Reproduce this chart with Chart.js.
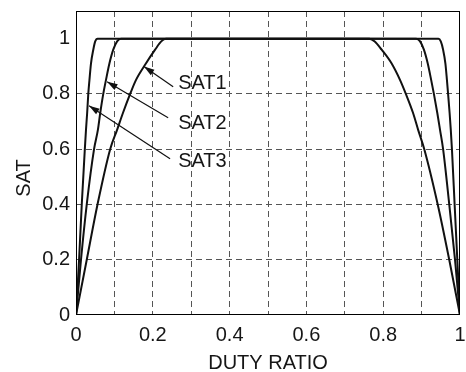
<!DOCTYPE html>
<html>
<head>
<meta charset="utf-8">
<script src="https://cdn.jsdelivr.net/npm/chart.js@4/dist/chart.umd.min.js"></script>
<style>
  html, body { margin: 0; padding: 0; background: #fff; }
  #wrap { width: 466px; height: 372px; }
</style>
</head>
<body>
<div id="wrap"><canvas id="satChart"></canvas></div>
<script>
// duty ratio / SAT values
const sat1X = [0, 0.028, 0.056, 0.089, 0.107, 0.122, 0.141, 0.156, 0.182, 0.206, 0.222, 0.234, 0.764, 0.778, 0.796, 0.822, 0.844, 0.859, 0.878, 0.891, 0.907, 0.942, 0.972, 1];
const sat1Y = [0, 0.2, 0.4, 0.6, 0.67, 0.73, 0.8, 0.85, 0.91, 0.96, 0.99, 1, 1, 0.99, 0.96, 0.91, 0.85, 0.8, 0.73, 0.67, 0.6, 0.4, 0.2, 0];

const sat2X = [0, 0.013, 0.028, 0.047, 0.057, 0.063, 0.071, 0.078, 0.087, 0.097, 0.107, 0.117, 0.886, 0.896, 0.906, 0.916, 0.925, 0.932, 0.941, 0.948, 0.956, 0.972, 0.987, 1];
const sat2Y = [0, 0.2, 0.4, 0.6, 0.67, 0.73, 0.8, 0.85, 0.91, 0.96, 0.99, 1, 1, 0.99, 0.96, 0.91, 0.85, 0.8, 0.73, 0.67, 0.6, 0.4, 0.2, 0];

const sat3X = [0, 0.008, 0.015, 0.023, 0.026, 0.029, 0.032, 0.035, 0.039, 0.045, 0.05, 0.056, 0.944, 0.95, 0.956, 0.962, 0.966, 0.969, 0.973, 0.976, 0.979, 0.986, 0.993, 1];
const sat3Y = [0, 0.2, 0.4, 0.6, 0.67, 0.73, 0.8, 0.85, 0.91, 0.96, 0.99, 1, 1, 0.99, 0.96, 0.91, 0.85, 0.8, 0.73, 0.67, 0.6, 0.4, 0.2, 0];

const xTicks = [0, 0.1, 0.2, 0.3, 0.4, 0.5, 0.6, 0.7, 0.8, 0.9, 1];
const yTicks = [0, 0.2, 0.4, 0.6, 0.8, 1];

// arrow labels: name, arrow tip, arrow tail, text baseline start (data units)
const labelNames = ["SAT1", "SAT2", "SAT3"];
const labelTips = [[0.177, 0.899], [0.081, 0.844], [0.034, 0.757]];
const labelTails = [[0.253, 0.826], [0.240, 0.714], [0.245, 0.565]];
const labelText = [[0.266, 0.819], [0.266, 0.674], [0.266, 0.536]];

const FONT = "'Liberation Sans', Arial, sans-serif";
const INK = "#161616";

function toPoints(xs, ys) {
  return xs.map((x, i) => ({ x: x, y: ys[i] }));
}

function lineSet(label, xs, ys) {
  return {
    label: label,
    data: toPoints(xs, ys),
    borderColor: "#111",
    borderWidth: 2,
    pointRadius: 0,
    fill: false,
    cubicInterpolationMode: "monotone"
  };
}

// frame, y title, arrows with labels
const annotate = {
  id: "annotate",
  afterDatasetsDraw(chart) {
    const { ctx, chartArea: a, scales } = chart;
    const sx = scales.x, sy = scales.y;
    ctx.save();
    ctx.strokeStyle = "#000";
    ctx.lineWidth = 1;
    ctx.strokeRect(a.left + 0.5, a.top + 0.5, a.right - a.left - 1, a.bottom - a.top - 1);

    ctx.fillStyle = INK;
    ctx.font = "20px " + FONT;

    // y axis title sits a bit below the middle in the original
    ctx.save();
    ctx.translate(24, 178);
    ctx.rotate(-Math.PI / 2);
    ctx.textAlign = "center";
    ctx.textBaseline = "middle";
    ctx.fillText("SAT", 0, 0);
    ctx.restore();

    ctx.strokeStyle = "#111";
    ctx.fillStyle = "#111";
    labelNames.forEach((name, i) => {
      const tx = sx.getPixelForValue(labelTips[i][0]);
      const ty = sy.getPixelForValue(labelTips[i][1]);
      const ex = sx.getPixelForValue(labelTails[i][0]);
      const ey = sy.getPixelForValue(labelTails[i][1]);
      ctx.lineWidth = 1.2;
      ctx.beginPath();
      ctx.moveTo(ex, ey);
      ctx.lineTo(tx, ty);
      ctx.stroke();
      const ang = Math.atan2(ey - ty, ex - tx);
      const len = 11, w = 0.3;
      ctx.beginPath();
      ctx.moveTo(tx, ty);
      ctx.lineTo(tx + len * Math.cos(ang - w), ty + len * Math.sin(ang - w));
      ctx.lineTo(tx + len * Math.cos(ang + w), ty + len * Math.sin(ang + w));
      ctx.closePath();
      ctx.fill();
      ctx.fillStyle = INK;
      ctx.textAlign = "left";
      ctx.textBaseline = "alphabetic";
      ctx.fillText(name, sx.getPixelForValue(labelText[i][0]), sy.getPixelForValue(labelText[i][1]));
      ctx.fillStyle = "#111";
    });
    ctx.restore();
  }
};

function gridColor(c) {
  const v = c.tick ? c.tick.value : null;
  return v === 0 || v === 1 ? "rgba(0,0,0,0)" : "#555";
}

new Chart(document.getElementById("satChart"), {
  type: "line",
  data: {
    datasets: [
      lineSet("SAT1", sat1X, sat1Y),
      lineSet("SAT2", sat2X, sat2Y),
      lineSet("SAT3", sat3X, sat3Y)
    ]
  },
  options: {
    responsive: true,
    maintainAspectRatio: false,
    animation: false,
    layout: { padding: { top: 11, right: 6, left: 0, bottom: 0 } },
    plugins: { legend: { display: false }, tooltip: { enabled: false } },
    scales: {
      x: {
        type: "linear",
        min: 0,
        max: 1,
        afterBuildTicks: (s) => { s.ticks = xTicks.map(v => ({ value: v })); },
        afterFit: (s) => {
          s.height = 57;
          s.paddingLeft = 0;
          s.paddingRight = 0;
        },
        ticks: {
          color: INK,
          font: { size: 20, family: FONT },
          padding: 8,
          maxRotation: 0,
          autoSkip: false,
          callback: (v) => (Math.round(v * 10) % 2 === 0 ? String(Math.round(v * 10) / 10) : "")
        },
        grid: { color: gridColor, lineWidth: 1, drawTicks: false },
        border: { display: false, dash: [6, 4] },
        title: {
          display: true,
          text: "DUTY RATIO",
          color: INK,
          font: { size: 20, family: FONT },
          padding: { top: 0, bottom: -3 }
        }
      },
      y: {
        min: 0,
        max: 1.1,
        afterBuildTicks: (s) => { s.ticks = yTicks.map(v => ({ value: v })); },
        afterFit: (s) => {
          s.width = 76;
          s.paddingTop = 0;
          s.paddingBottom = 0;
        },
        ticks: {
          color: INK,
          font: { size: 20, family: FONT },
          padding: 6,
          callback: (v) => String(Math.round(v * 10) / 10)
        },
        grid: { color: gridColor, lineWidth: 1, drawTicks: false },
        border: { display: false, dash: [6, 4] }
      }
    }
  },
  plugins: [annotate]
});
</script>
</body>
</html>
